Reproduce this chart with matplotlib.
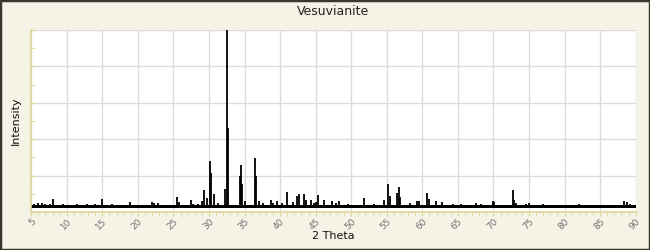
import matplotlib
matplotlib.use('Agg')
import matplotlib.pyplot as plt
from matplotlib.patches import Rectangle
from matplotlib.ticker import MultipleLocator

# 衍射峰位置 (2θ) 与强度 (任意单位, 满刻度 = 5)
peak_pos = [5.4, 6.0, 6.5, 7.0, 7.6, 8.0, 9.5, 11.5, 12.8, 14.0, 14.9, 16.3, 17.5,
            18.85, 20.5, 22.0, 22.2, 22.85, 23.5, 24.3, 25.5, 25.75, 27.5, 27.8, 28.4,
            29.0, 29.27, 29.75, 30.1, 30.25, 30.7, 31.2, 32.3, 32.5, 32.65,
            34.35, 34.44, 34.6, 35.1, 36.45, 36.6, 37.0, 37.6,
            38.66, 39.0, 39.55, 40.3, 40.96, 41.76, 42.37, 42.65, 43.35, 43.6,
            44.34, 44.8, 45.05, 45.33, 46.17, 47.25, 47.8, 48.24, 49.5, 51.8, 53.2,
            54.6, 55.2, 55.4, 56.45, 56.73, 56.9, 58.2, 59.3, 59.5, 60.68, 60.96,
            61.9, 62.75, 64.3, 65.5, 67.5, 68.2, 69.97, 70.1, 72.7, 72.9, 73.2,
            74.6, 74.95, 77.0, 80.1, 82.0, 84.4, 86.3, 88.4, 88.8, 89.2]
peak_int = [0.22, 0.24, 0.25, 0.22, 0.22, 0.36, 0.22, 0.22, 0.22, 0.22, 0.36, 0.23, 0.20,
            0.27, 0.20, 0.27, 0.24, 0.25, 0.20, 0.20, 0.42, 0.28, 0.33, 0.22, 0.22,
            0.30, 0.60, 0.38, 1.40, 1.08, 0.49, 0.25, 0.63, 5.00, 2.30,
            1.00, 1.29, 0.77, 0.30, 1.49, 0.99, 0.30, 0.25,
            0.33, 0.26, 0.30, 0.26, 0.56, 0.28, 0.44, 0.49, 0.49, 0.33,
            0.33, 0.25, 0.28, 0.47, 0.33, 0.30, 0.25, 0.30, 0.22, 0.38, 0.22,
            0.33, 0.77, 0.45, 0.51, 0.70, 0.40, 0.24, 0.30, 0.30, 0.53, 0.36,
            0.30, 0.28, 0.22, 0.22, 0.25, 0.22, 0.30, 0.27, 0.60, 0.33, 0.25,
            0.22, 0.24, 0.22, 0.20, 0.22, 0.20, 0.20, 0.30, 0.27, 0.22]

x_range = [5, 90]
bg_low = 0.10
bg_high = 0.19
y_max = 5.0
x_ticks = [5, 10, 15, 20, 25, 30, 35, 40, 45, 50, 55, 60, 65, 70, 75, 80, 85, 90]

bg_color = '#f5f2e6'
axis_color = '#e0d69a'

fig = plt.figure(figsize=(6.5, 2.5), dpi=100, facecolor=bg_color)
ax = fig.add_axes([0.048, 0.152, 0.930, 0.728])
ax.set_facecolor('white')

# 背景噪声带 + 峰
ax.fill_between(x_range, bg_low, bg_high, color='black', lw=0)
ax.vlines(peak_pos, bg_low, peak_int, color='black', lw=1.3)

for s in ['top', 'right']:
    ax.spines[s].set_visible(False)
for s in ['left', 'bottom']:
    ax.spines[s].set_color(axis_color)
    ax.spines[s].set_linewidth(1.2)

ax.set_xlim(x_range)
ax.set_ylim(0, y_max)
ax.set_xticks(x_ticks)
ax.set_xticklabels([str(t) for t in x_ticks], rotation=45, ha='right',
                   rotation_mode='anchor', fontsize=6.5, color='#707070')
ax.xaxis.set_minor_locator(MultipleLocator(1))
ax.yaxis.set_major_locator(MultipleLocator(1))
ax.yaxis.set_minor_locator(MultipleLocator(0.5))
ax.tick_params(axis='y', labelleft=False)

ax.grid(True, which='major', color='#dcdcdc', lw=1)
ax.set_axisbelow(True)

ax.tick_params(axis='x', which='major', direction='out', length=3, color=axis_color, pad=0.5)
ax.tick_params(axis='x', which='minor', direction='out', length=3, color=axis_color)
ax.tick_params(axis='y', which='both', direction='in', length=3, color=axis_color)

ax.set_title('Vesuvianite', fontsize=9, color='#222222', pad=11)
ax.set_xlabel('2 Theta', fontsize=8, color='#111111', labelpad=0)
ax.set_ylabel('Intensity', fontsize=8, color='#111111', labelpad=4)

# 外框
fig.patches.append(Rectangle((0, 0), 1, 1, transform=fig.transFigure,
                             fill=False, edgecolor='#3a382e', lw=2.5))

fig.savefig('out.png', dpi=100, facecolor=bg_color)
